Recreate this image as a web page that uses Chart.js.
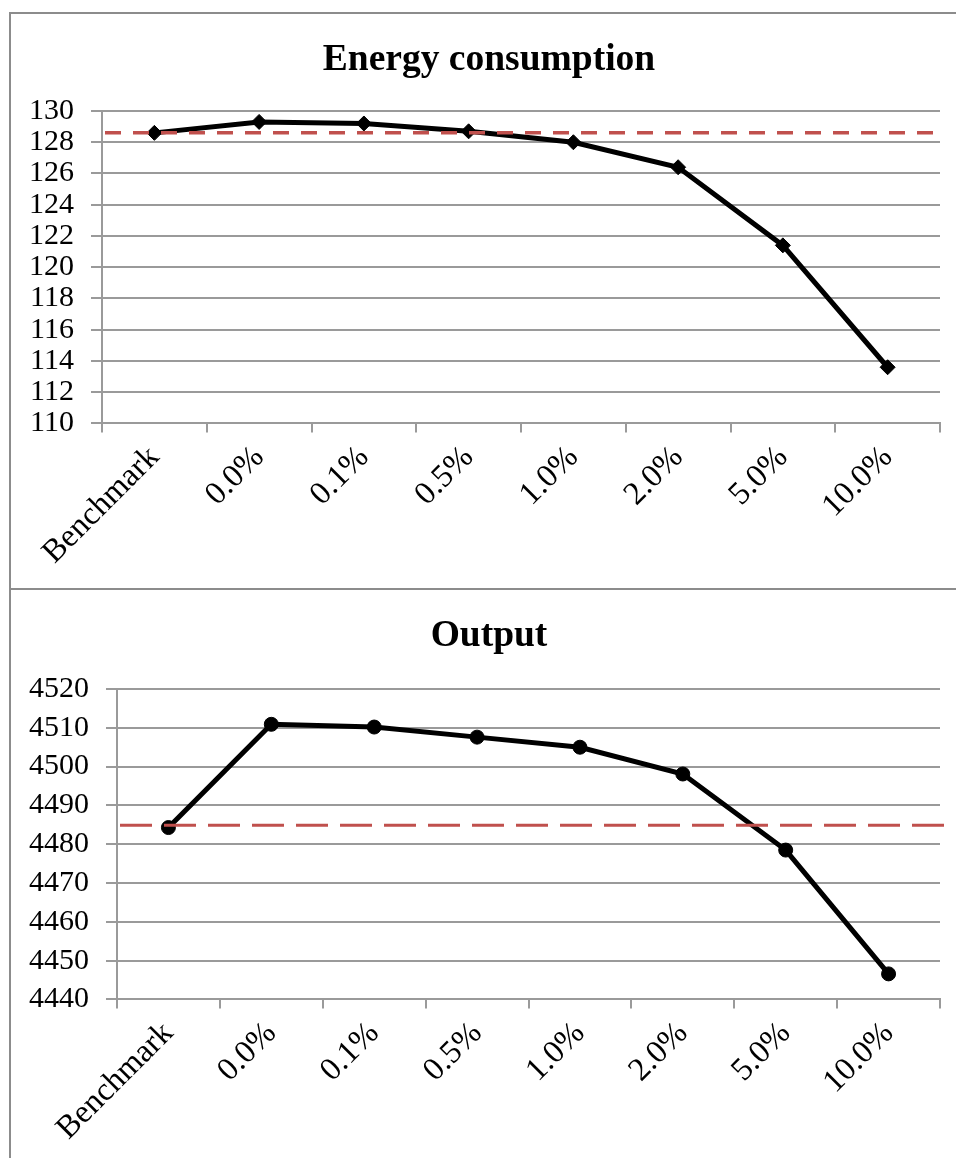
<!DOCTYPE html>
<html>
<head>
<meta charset="utf-8">
<script src="https://cdn.jsdelivr.net/npm/chart.js@4/dist/chart.umd.min.js"></script>
<style>
  html, body { margin: 0; padding: 0; background: #fff; overflow: hidden; }
  .panel { position: absolute; left: 9px; width: 990px; border: 2px solid #8c8c8c; box-sizing: border-box; }
  #panelEnergy { top: 12px; height: 578px; }
  #panelOutput { top: 588px; height: 620px; }
  .panel canvas { position: absolute; left: 0; top: 0; }
</style>
</head>
<body>
<div class="panel" id="panelEnergy"><canvas id="energyChart" width="956" height="574"></canvas></div>
<div class="panel" id="panelOutput"><canvas id="outputChart" width="956" height="570"></canvas></div>
<script>
// Scenarios on the horizontal axis
const categories = ['Benchmark', '0.0%', '0.1%', '0.5%', '1.0%', '2.0%', '5.0%', '10.0%'];

// Energy consumption per scenario, with the benchmark level shown as a dashed line
const energyValues = [128.6, 129.3, 129.2, 128.7, 128.0, 126.4, 121.4, 113.6];
const energyBenchmark = 128.6;
const energyTicks = [110, 112, 114, 116, 118, 120, 122, 124, 126, 128, 130];

// Output per scenario, with the benchmark level shown as a dashed line
const outputValues = [4484.3, 4510.9, 4510.2, 4507.6, 4505.0, 4498.1, 4478.5, 4446.6];
const outputBenchmark = 4484.9;
const outputTicks = [4440, 4450, 4460, 4470, 4480, 4490, 4500, 4510, 4520];

const SERIF = '"Liberation Serif", "Times New Roman", serif';
const GRID = '#9a9a9a';

// Horizontal dashed reference line across the whole plot area
const referenceLine = {
  id: 'referenceLine',
  afterDatasetsDraw(chart, args, opts) {
    const y = chart.scales.y.getPixelForValue(opts.value);
    const { left, right } = chart.chartArea;
    const ctx = chart.ctx;
    ctx.save();
    ctx.strokeStyle = opts.color;
    ctx.lineWidth = opts.width;
    ctx.setLineDash(opts.dash);
    ctx.beginPath();
    ctx.moveTo(left + 3, y);
    ctx.lineTo(right + 4, y);
    ctx.stroke();
    ctx.restore();
  }
};

function buildChart(canvasId, cfg) {
  return new Chart(document.getElementById(canvasId), {
    type: 'line',
    data: {
      labels: categories,
      datasets: [{
        data: cfg.values,
        borderColor: '#000',
        backgroundColor: '#000',
        borderWidth: 5,
        pointStyle: cfg.marker,
        pointRadius: cfg.radius,
        pointBorderWidth: 1,
        pointBackgroundColor: '#000',
        pointBorderColor: '#000',
        tension: 0
      }]
    },
    options: {
      responsive: false,
      animation: false,
      events: [],
      layout: { padding: { left: 1, right: 1, top: 0, bottom: cfg.padBottom } },
      plugins: {
        legend: { display: false },
        tooltip: { enabled: false },
        title: {
          display: true,
          text: cfg.title,
          color: '#000',
          font: { family: SERIF, size: 37.5, weight: 'bold' },
          padding: { top: cfg.titleTop, bottom: cfg.titleGap }
        },
        referenceLine: { value: cfg.benchmark, color: '#c0504d', width: cfg.dashWidth, dash: cfg.dash }
      },
      scales: {
        x: {
          type: 'category',
          offset: true,
          grid: { display: true, drawOnChartArea: false, drawTicks: true, tickLength: 9, offset: true, color: GRID, lineWidth: 2 },
          border: { display: true, color: GRID, width: 2 },
          ticks: {
            autoSkip: false,
            minRotation: 45,
            maxRotation: 45,
            padding: 6,
            color: '#000',
            font: { family: SERIF, size: 32.5 }
          }
        },
        y: {
          min: cfg.ticks[0],
          max: cfg.ticks[cfg.ticks.length - 1],
          afterBuildTicks(scale) { scale.ticks = cfg.ticks.map(v => ({ value: v })); },
          grid: { color: GRID, lineWidth: 2, drawTicks: true, tickLength: 11 },
          border: { display: true, color: GRID, width: 2 },
          ticks: {
            autoSkip: false,
            padding: 17,
            color: '#000',
            font: { family: SERIF, size: 30 },
            callback: v => String(v)
          }
        },
        // empty right-hand margin so the title stays centred on the panel
        margin: {
          position: 'right',
          display: true,
          min: 0,
          max: 1,
          grid: { display: false, drawTicks: false },
          border: { display: false },
          ticks: { display: false },
          afterFit(scale) { scale.width = 26; }
        }
      }
    },
    plugins: [referenceLine]
  });
}

buildChart('energyChart', {
  title: 'Energy consumption', values: energyValues, benchmark: energyBenchmark, ticks: energyTicks,
  marker: 'rectRot', radius: 7.5, dash: [16, 12], dashWidth: 3.5, titleTop: 24, titleGap: 28, padBottom: 10
});
buildChart('outputChart', {
  title: 'Output', values: outputValues, benchmark: outputBenchmark, ticks: outputTicks,
  marker: 'circle', radius: 7, dash: [32, 12], dashWidth: 3, titleTop: 24, titleGap: 30, padBottom: 6
});
</script>
</body>
</html>
